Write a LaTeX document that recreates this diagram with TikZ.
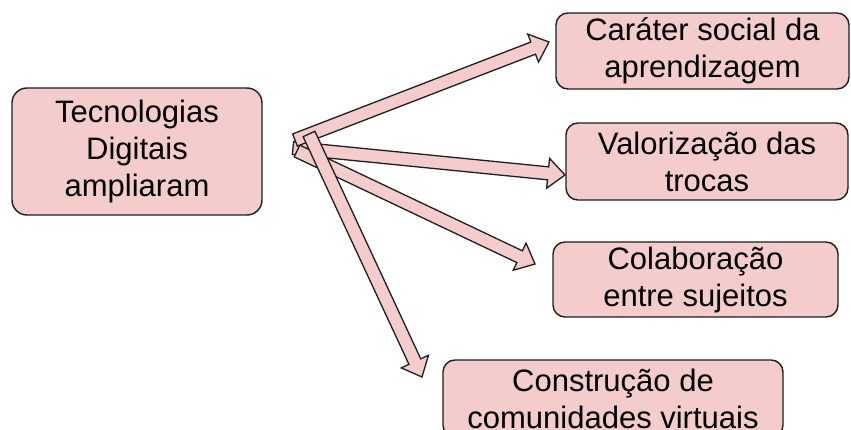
\documentclass[tikz,border=0pt]{standalone}
\usepackage{fontspec}
\setmainfont{Liberation Sans}
\usetikzlibrary{calc}
\definecolor{pinkf}{HTML}{F4CCCC}
\definecolor{edge}{HTML}{1E1E1E}
\tikzset{
  box/.style={draw=edge, line width=1.4pt, fill=pinkf, rounded corners=12pt,
    align=center, inner sep=0pt, text=black,
    font=\fontsize{31}{37}\selectfont},
  barrow/.style={draw=edge, line width=1.3pt, fill=pinkf, line join=miter},
}
\newcommand\blockarrow[2]{%
  \path ($(#2)!17pt!(#1)$) coordinate (hb);
  \draw[barrow] ($(#1)!6.5pt!90:(#2)$) -- ($(hb)!6.5pt!90:(#2)$) -- ($(hb)!15pt!90:(#2)$)
    -- (#2) -- ($(hb)!15pt!-90:(#2)$) -- ($(hb)!6.5pt!-90:(#2)$) -- ($(#1)!6.5pt!-90:(#2)$) -- cycle;}
\begin{document}
\begin{tikzpicture}[x=1pt,y=-1pt]
\useasboundingbox (0,0) rectangle (851,430);
\clip (0,0) rectangle (851,430);
\node[box, minimum width=250pt, minimum height=127pt, rounded corners=15pt] (c0) at (137,151.5) {Tecnologias\\Digitais\\ampliaram};
\node[box, minimum width=293pt, minimum height=76pt] (c1) at (702.5,51) {Caráter social da\\aprendizagem};
\node[box, minimum width=282pt, minimum height=77pt] (c2) at (707,161.5) {Valorização das\\trocas};
\node[box, minimum width=285pt, minimum height=75pt] (c3) at (695.5,279.5) {Colaboração\\entre sujeitos};
\node[box, minimum width=340pt, minimum height=77pt] (c4) at (613,398.5) {Construção de\\comunidades virtuais};
\coordinate (t1) at (295,140);
\coordinate (t2) at (293,148);
\coordinate (t3) at (297,151);
\coordinate (t4) at (309,134);
\coordinate (h1) at (549,42);
\coordinate (h2) at (565,175);
\coordinate (h3) at (535,264);
\coordinate (h4) at (422,377);
\blockarrow{t2}{h2}
\blockarrow{t3}{h3}
\blockarrow{t1}{h1}
\blockarrow{t4}{h4}
\end{tikzpicture}
\end{document}
